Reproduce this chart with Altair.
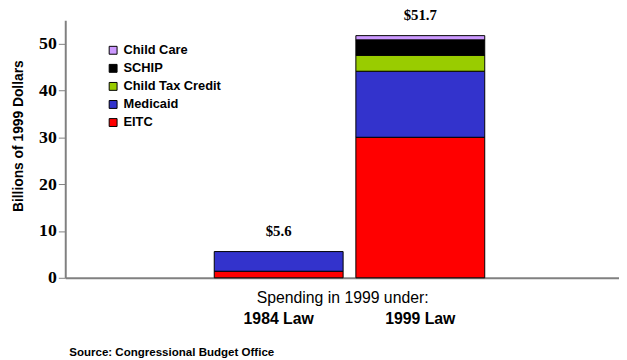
import altair as alt
import pandas as pd

laws = ["1984 Law", "1999 Law"]
programs = ["EITC", "Medicaid", "Child Tax Credit", "SCHIP", "Child Care"]
colors = ["#FF0000", "#3333CC", "#99CC00", "#000000", "#CC99FF"]
values_1984 = [1.4, 4.2, 0.0, 0.0, 0.0]
values_1999 = [30.0, 14.1, 3.4, 3.3, 0.9]
totals = [5.6, 51.7]
total_labels = ["$5.6", "$51.7"]

rows = []
for law, vals in zip(laws, [values_1984, values_1999]):
    for i, (p, v) in enumerate(zip(programs, vals)):
        rows.append({"law": law, "program": p, "value": v, "order": i})
df = pd.DataFrame(rows)
tdf = pd.DataFrame({"law": laws, "total": totals, "label": total_labels})

xscale = alt.Scale(domain=laws, paddingInner=0.09, paddingOuter=1, align=0.526)
yscale = alt.Scale(domain=[0, 55], nice=False)

bars = alt.Chart(df).transform_filter("datum.value > 0").mark_bar(stroke="black", strokeWidth=1).encode(
    x=alt.X("law:N", scale=xscale, sort=laws,
            axis=alt.Axis(title="Spending in 1999 under:", labelAngle=0,
                          labelFont="Liberation Sans", labelFontSize=16, labelFontWeight="bold",
                          labelColor="black", labelPadding=33, ticks=False,
                          domainColor="#808080", domainWidth=2,
                          titleFont="Liberation Sans", titleFontSize=16, titleFontWeight="normal",
                          titleColor="black", titleY=12, titleBaseline="top")),
    y=alt.Y("value:Q", scale=yscale, stack="zero",
            axis=alt.Axis(title="Billions of 1999 Dollars", values=[0, 10, 20, 30, 40, 50],
                          grid=False, labelFont="Liberation Serif", labelFontSize=18,
                          labelFontWeight="bold", labelColor="black", labelPadding=2,
                          tickSize=7, tickColor="#808080", domainColor="#808080", domainWidth=2,
                          titleFont="Liberation Sans", titleFontSize=14, titleFontWeight="bold",
                          titleColor="black", titleX=-40, titleY=117)),
    color=alt.Color("program:N", sort=programs[::-1],
                    scale=alt.Scale(domain=programs[::-1], range=colors[::-1]),
                    legend=alt.Legend(title=None, orient="none", legendX=42, legendY=24,
                                      symbolType="square", symbolSize=64, symbolStrokeColor="black",
                                      symbolStrokeWidth=1, labelFont="Liberation Sans",
                                      labelFontSize=13, labelFontWeight="bold", labelColor="black",
                                      rowPadding=4.3, symbolOpacity=1)),
    order=alt.Order("order:Q"),
)

text = alt.Chart(tdf).mark_text(font="Liberation Serif", fontSize=15, fontWeight="bold",
                                baseline="bottom", dy=-13, color="black").encode(
    x=alt.X("law:N", scale=xscale, sort=laws),
    y=alt.Y("total:Q", scale=yscale),
    text="label:N",
)

chart = alt.layer(bars, text).properties(
    width=561, height=261,
    autosize=alt.AutoSizeParams(type="none"),
    padding={"left": 58, "top": 10, "right": 0, "bottom": 85},
    title=alt.TitleParams("Source:  Congressional Budget Office", orient="bottom", anchor="start",
                          frame="group", font="Liberation Sans", fontSize=11.7, fontWeight="bold",
                          color="black", dx=4, offset=21),
).configure_view(stroke=None).configure_axis(titlePadding=0)

chart.save("out.html", embed_options={"renderer": "svg", "actions": False})
